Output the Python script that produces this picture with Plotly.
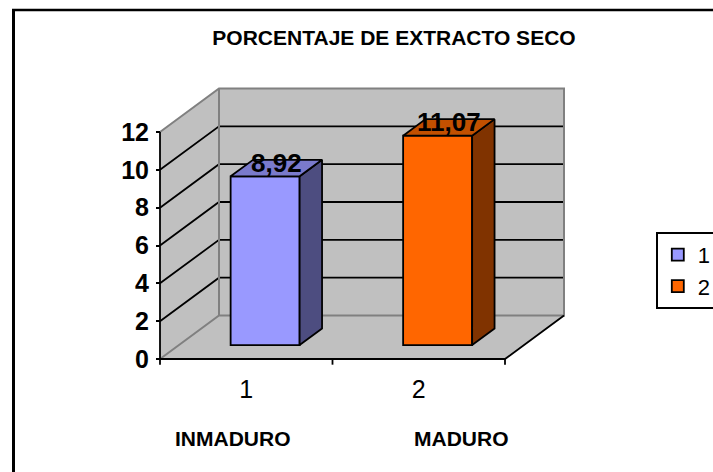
import plotly.graph_objects as go

# Data
categories = [1, 2]
series_names = ["1", "2"]
values = [8.92, 11.07]
value_labels = ["8,92", "11,07"]
y_ticks = [0, 2, 4, 6, 8, 10, 12]
grid_values = [2, 4, 6, 8, 10]
category_titles = ["INMADURO", "MADURO"]
title = "PORCENTAJE DE EXTRACTO SECO"

front_colors = ["#9999FF", "#FF6600"]
top_colors = ["#7A7ACC", "#C25000"]
side_colors = ["#4D4D80", "#803300"]
WALL = "#C0C0C0"
EDGE = "#808080"

# The chart's frame runs past the right edge of the window, as in the source
W, H = 760, 472
PX_X0, PX_X1 = 160, 505      # front floor edge
PX_Y0, PX_Y12 = 359, 132     # value axis
x_per_px = 2 / (PX_X1 - PX_X0)
y_per_px = 12 / (PX_Y0 - PX_Y12)
x_range = [0.5 - PX_X0 * x_per_px, 0.5 + (W - PX_X0) * x_per_px]
y_range = [-(H - PX_Y0) * y_per_px, PX_Y0 * y_per_px]

# Oblique depth vector for the 3-D look
DX = 59 * x_per_px
DY = 43.5 * y_per_px
XL, XR, YMAX = 0.5, 2.5, 12
BAR_W = 0.40
D0, D1 = 0.32, 0.70      # bar depth extent
LW = 1.8


def P(x, y, d):
    return x + DX * d, y + DY * d


def poly(pts, fill, line=None, lw=0, axes="x1", closed=True):
    xs, ys = zip(*pts)
    xs, ys = list(xs), list(ys)
    if closed:
        xs.append(xs[0]); ys.append(ys[0])
    xa, ya = ("x", "y") if axes == "x1" else ("x2", "y2")
    return go.Scatter(
        x=xs, y=ys, mode="lines", xaxis=xa, yaxis=ya, showlegend=False, hoverinfo="skip",
        fill="toself" if fill else None, fillcolor=fill,
        line=dict(color=line if line else "rgba(0,0,0,0)", width=lw),
    )


def seg(pts, color, lw, axes="x1"):
    return poly(pts, None, color, lw, axes, closed=False)


fig = go.Figure()

# Walls and floor
fig.add_trace(poly([P(XL, 0, 1), P(XR, 0, 1), P(XR, YMAX, 1), P(XL, YMAX, 1)], WALL))
fig.add_trace(poly([P(XL, 0, 0), P(XL, 0, 1), P(XL, YMAX, 1), P(XL, YMAX, 0)], WALL))
fig.add_trace(poly([P(XL, 0, 0), P(XR, 0, 0), P(XR, 0, 1), P(XL, 0, 1)], WALL))

# Gridlines
for g in grid_values:
    fig.add_trace(seg([P(XL, g, 0), P(XL, g, 1), P(XR, g, 1)], "#000000", LW))

# Wall borders
fig.add_trace(seg([P(XL, 0, 0), P(XL, 0, 1), P(XR, 0, 1), P(XR, YMAX, 1), P(XL, YMAX, 1), P(XL, YMAX, 0)], EDGE, 2))
fig.add_trace(seg([P(XL, 0, 1), P(XL, YMAX, 1)], EDGE, 2))

# Axis lines and category boundary ticks
fig.add_trace(seg([P(XL, YMAX, 0), P(XL, 0, 0), P(XR, 0, 0), P(XR, 0, 1)], "#000000", LW))
for b in [0.5, 1.5, 2.5]:
    fig.add_trace(seg([(b, 0), (b, -0.3)], "#000000", LW))

# Bars on an overlaid subplot so they sit above the walls
for i, (c, v) in enumerate(zip(categories, values)):
    base = DY * D0
    fig.add_trace(go.Bar(
        x=[c + DX * D0], y=[v], base=[base], width=[BAR_W], name=series_names[i],
        xaxis="x2", yaxis="y2",
        marker=dict(color=front_colors[i], line=dict(color="#000000", width=LW)),
        hoverinfo="skip",
    ))
    l, r = c - BAR_W / 2, c + BAR_W / 2
    fig.add_trace(poly([P(r, 0, D0), P(r, 0, D1), P(r, v, D1), P(r, v, D0)], side_colors[i], "#000000", LW, "x2"))
    fig.add_trace(poly([P(l, v, D0), P(r, v, D0), P(r, v, D1), P(l, v, D1)], top_colors[i], "#000000", LW, "x2"))

# Value labels
DM = (D0 + D1) / 2
LABEL_RAISE = 0.15
fig.add_trace(go.Scatter(
    x=[P(c, v, DM)[0] for c, v in zip(categories, values)],
    y=[P(c, v, DM)[1] + LABEL_RAISE for c, v in zip(categories, values)],
    text=value_labels, mode="text", xaxis="x2", yaxis="y2", showlegend=False, hoverinfo="skip",
    textfont=dict(family="Liberation Sans", size=26, color="#000000", weight="bold"),
    textposition="middle center",
))

title_offsets = [-0.075, 0.25]
for c, t, off in zip(categories, category_titles, title_offsets):
    fig.add_annotation(
        x=c + off, y=-4.2, xref="x", yref="y", text=f"<b>{t}</b>", showarrow=False,
        font=dict(family="Liberation Sans", size=21, color="#000000"),
    )

fig.update_layout(
    width=W, height=H, autosize=False, margin=dict(l=0, r=0, t=0, b=0),
    paper_bgcolor="#FFFFFF", plot_bgcolor="rgba(0,0,0,0)",
    barmode="overlay", font=dict(family="Liberation Sans", color="#000000"),
    title=dict(text=f"<b>{title}</b>", x=394 / W, y=1 - 38 / H, xanchor="center", yanchor="middle",
               font=dict(family="Liberation Sans", size=21, color="#000000")),
    xaxis=dict(range=x_range, domain=[0, 1], anchor="free", position=(H - PX_Y0) / H, showgrid=False,
               zeroline=False, showline=False, tickmode="array", tickvals=categories,
               ticktext=[str(c) for c in categories], ticks="outside", ticklen=8,
               tickcolor="rgba(0,0,0,0)", tickfont=dict(size=25, color="#000000")),
    yaxis=dict(range=y_range, domain=[0, 1], anchor="free", position=PX_X0 / W, showgrid=False,
               zeroline=False, showline=False, tickmode="array", tickvals=y_ticks,
               ticks="outside", ticklen=4, tickwidth=LW, tickcolor="#000000", ticklabelstandoff=2,
               tickfont=dict(size=25, color="#000000", weight="bold")),
    xaxis2=dict(range=x_range, overlaying="x", visible=False),
    yaxis2=dict(range=y_range, overlaying="y", visible=False),
    legend=dict(x=656 / W, y=1 - 232 / H, xanchor="left", yanchor="top", bgcolor="#FFFFFF",
                bordercolor="#000000", borderwidth=LW, font=dict(size=22, color="#000000"),
                itemclick=False, itemdoubleclick=False),
    shapes=[
        dict(type="line", xref="paper", yref="paper", x0=13.5 / W, x1=13.5 / W, y0=0, y1=1 - 9.5 / H,
             line=dict(color="#000000", width=3)),
        dict(type="line", xref="paper", yref="paper", x0=12 / W, x1=1, y0=1 - 10 / H, y1=1 - 10 / H,
             line=dict(color="#000000", width=2.5)),
    ],
)

fig.write_html("out.html", config=dict(displayModeBar=False),
               post_script="document.body.style.margin='0';document.documentElement.style.overflow='hidden';")
